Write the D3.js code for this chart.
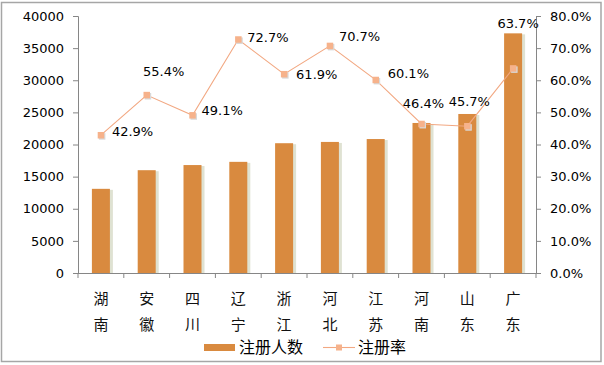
<!DOCTYPE html>
<html><head><meta charset="utf-8">
<script src="https://cdn.jsdelivr.net/npm/d3@7"></script>
<style>
body{margin:0;background:#fff;}
svg{display:block;}
</style></head>
<body>
<svg id="chart" width="604" height="365"></svg>
<script>
const categories = ["湖南","安徽","四川","辽宁","浙江","河北","江苏","河南","山东","广东"];
const registered = [13100, 16000, 16800, 17300, 20200, 20400, 20850, 23350, 24750, 37300];
const rates = [0.429, 0.554, 0.491, 0.727, 0.619, 0.707, 0.601, 0.464, 0.457, 0.637];
const leftTicks = [0,5000,10000,15000,20000,25000,30000,35000,40000];
const rightTicks = [0,0.1,0.2,0.3,0.4,0.5,0.6,0.7,0.8];
const seriesNames = ["注册人数","注册率"];
// label placement (style, not data): dx, dy relative to point
const labelPlace = [[11,-4,"start"],[17,-24,"middle"],[9,-5,"start"],[9,-2,"start"],[12,0,"start"],[9,-9,"start"],[12,-6,"start"],[2,-20,"middle"],[2,-25,"middle"],[5,-45,"middle"]];

(function(){
const svg = d3.select("#chart");
const font = "DejaVu Sans, sans-serif";
const cjk = "'Noto Sans CJK SC', sans-serif";
const axisColor = "#868686";

svg.append("rect").attr("x",1.5).attr("y",2.5).attr("width",599.5).attr("height",359)
  .attr("fill","#fff").attr("stroke","#a6a6a6").attr("stroke-width",1.5);

const pL = 78, pR = 536, pT = 16, pB = 273;
const x = d3.scaleBand().domain(categories).range([pL,pR]);
const yL = d3.scaleLinear().domain([0,40000]).range([pB,pT]);
const yR = d3.scaleLinear().domain([0,0.8]).range([pB,pT]);
const barW = 18;

// bar shadows
svg.append("g").selectAll("rect").data(categories).join("rect")
  .attr("x",(d)=>x(d)+x.bandwidth()/2-barW/2+1.5)
  .attr("y",(d,i)=>yL(registered[i])+1)
  .attr("width",barW+1.5)
  .attr("height",(d,i)=>pB-yL(registered[i])-1)
  .attr("fill","#dfe2d2");
svg.append("g").selectAll("rect").data(categories).join("rect")
  .attr("x",(d)=>x(d)+x.bandwidth()/2-barW/2)
  .attr("y",(d,i)=>yL(registered[i]))
  .attr("width",barW)
  .attr("height",(d,i)=>pB-yL(registered[i]))
  .attr("fill","#d98a3f");

// axes
const gL = svg.append("g").attr("transform",`translate(${pL},0)`)
  .call(d3.axisLeft(yL).tickValues(leftTicks).tickFormat(d3.format("d")).tickSize(5).tickPadding(9));
const gR = svg.append("g").attr("transform",`translate(${pR},0)`)
  .call(d3.axisRight(yR).tickValues(rightTicks).tickFormat(d3.format(".1%")).tickSize(5).tickPadding(9));
const gX = svg.append("g").attr("transform",`translate(0,${pB})`)
  .call(d3.axisBottom(x).tickSize(0).tickFormat(""));
[gL,gR,gX].forEach(g=>{
  g.selectAll("path").attr("stroke",axisColor).attr("stroke-width",1);
  g.selectAll("line").attr("stroke",axisColor);
  g.selectAll("text").attr("fill","#000").style("font-family",font).style("font-size","13px");
});
gX.select("path").attr("d",`M${pL},0.5H${pR}`);
// category boundary ticks
const bounds = categories.map(c=>x(c)).concat([pR]);
svg.append("g").selectAll("line").data(bounds).join("line")
  .attr("x1",d=>d).attr("x2",d=>d).attr("y1",pB).attr("y2",pB+5)
  .attr("stroke",axisColor);

// category labels (stacked characters)
const cl = svg.append("g").selectAll("g").data(categories).join("g")
  .attr("transform",d=>`translate(${x(d)+x.bandwidth()/2},0)`);
cl.selectAll("text").data(d=>d.split("")).join("text")
  .attr("y",(d,i)=>304+i*26).attr("text-anchor","middle")
  .style("font-family",cjk).style("font-size","15px").attr("fill","#111")
  .text(d=>d);

// line
const lineColor = "#f2a882";
const pts = categories.map((c,i)=>[x(c)+x.bandwidth()/2, yR(rates[i])]);
svg.append("path").datum(pts).attr("d",d3.line()).attr("fill","none")
  .attr("stroke",lineColor).attr("stroke-width",1.1);
svg.append("g").selectAll("rect").data(pts).join("rect")
  .attr("x",d=>d[0]-3+1).attr("y",d=>d[1]-3+1).attr("width",6.5).attr("height",6.5)
  .attr("fill","#d9d9d9");
svg.append("g").selectAll("rect").data(pts).join("rect")
  .attr("x",d=>d[0]-3.2).attr("y",d=>d[1]-3.2).attr("width",6.5).attr("height",6.5)
  .attr("fill","#f6b28b");

// labels
svg.append("g").selectAll("text").data(pts).join("text")
  .attr("x",(d,i)=>d[0]+labelPlace[i][0])
  .attr("y",(d,i)=>d[1]+labelPlace[i][1])
  .attr("dy","0.35em")
  .attr("text-anchor",(d,i)=>labelPlace[i][2])
  .style("font-family",font).style("font-size","13px").attr("fill","#000")
  .text((d,i)=>d3.format(".1%")(rates[i]));

// legend
const lg = svg.append("g");
lg.append("rect").attr("x",204).attr("y",344).attr("width",31).attr("height",7).attr("fill","#d98a3f");
lg.append("text").attr("x",239).attr("y",347.5).attr("dy","0.35em").text(seriesNames[0])
  .style("font-family",cjk).style("font-size","16px");
lg.append("line").attr("x1",323).attr("x2",355).attr("y1",347.5).attr("y2",347.5)
  .attr("stroke",lineColor).attr("stroke-width",1.1);
lg.append("rect").attr("x",336).attr("y",344.5).attr("width",6).attr("height",6).attr("fill","#f6b28b");
lg.append("text").attr("x",358).attr("y",347.5).attr("dy","0.35em").text(seriesNames[1])
  .style("font-family",cjk).style("font-size","16px");
})();
</script>
</body></html>
